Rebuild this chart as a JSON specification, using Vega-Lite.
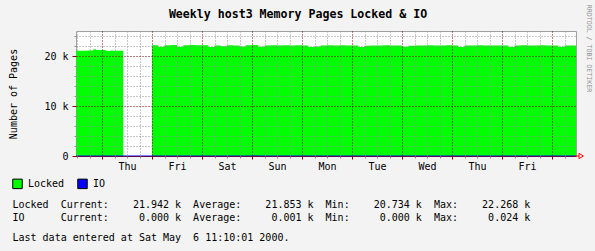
{
  "$schema": "https://vega.github.io/schema/vega-lite/v6.json",
  "width": 500,
  "height": 125,
  "autosize": {"type": "none"},
  "padding": {"left": 76, "top": 31, "right": 19, "bottom": 95},
  "background": "#f3f3f3",
  "config": {
    "view": {"fill": "white", "stroke": "#a0a0a0"},
    "font": "DejaVu Sans Mono"
  },
  "title": {
    "text": "Weekly host3 Memory Pages Locked & IO",
    "font": "DejaVu Sans Mono",
    "fontSize": 11.6,
    "fontWeight": "bold",
    "color": "black",
    "anchor": "middle",
    "baseline": "alphabetic",
    "dx": -28,
    "dy": 37.5,
    "offset": 12
  },
  "datasets": {
    "locked": [
      {"t": "2000-04-26T11:30:00", "v": 21060, "seg": "a", "series": "Locked"},
      {"t": "2000-04-26T14:00:00", "v": 21050, "seg": "a", "series": "Locked"},
      {"t": "2000-04-26T17:00:00", "v": 21080, "seg": "a", "series": "Locked"},
      {"t": "2000-04-26T19:50:00", "v": 21340, "seg": "a", "series": "Locked"},
      {"t": "2000-04-26T21:10:00", "v": 21200, "seg": "a", "series": "Locked"},
      {"t": "2000-04-27T02:00:00", "v": 21000, "seg": "a", "series": "Locked"},
      {"t": "2000-04-27T04:00:00", "v": 21100, "seg": "a", "series": "Locked"},
      {"t": "2000-04-27T05:30:00", "v": 21070, "seg": "a", "series": "Locked"},
      {"t": "2000-04-27T10:10:00", "v": 21070, "seg": "a", "series": "Locked"},
      {"t": "2000-04-28T00:00:00", "v": 22150, "seg": "b", "series": "Locked"},
      {"t": "2000-04-28T03:00:00", "v": 21850, "seg": "b", "series": "Locked"},
      {"t": "2000-04-28T06:00:00", "v": 22150, "seg": "b", "series": "Locked"},
      {"t": "2000-04-28T09:00:00", "v": 22200, "seg": "b", "series": "Locked"},
      {"t": "2000-04-28T12:00:00", "v": 21850, "seg": "b", "series": "Locked"},
      {"t": "2000-04-28T15:00:00", "v": 22150, "seg": "b", "series": "Locked"},
      {"t": "2000-04-28T18:00:00", "v": 22200, "seg": "b", "series": "Locked"},
      {"t": "2000-04-28T21:00:00", "v": 22150, "seg": "b", "series": "Locked"},
      {"t": "2000-04-29T00:00:00", "v": 22150, "seg": "b", "series": "Locked"},
      {"t": "2000-04-29T03:00:00", "v": 21800, "seg": "b", "series": "Locked"},
      {"t": "2000-04-29T06:00:00", "v": 22100, "seg": "b", "series": "Locked"},
      {"t": "2000-04-29T09:00:00", "v": 21950, "seg": "b", "series": "Locked"},
      {"t": "2000-04-29T12:00:00", "v": 22150, "seg": "b", "series": "Locked"},
      {"t": "2000-04-29T15:00:00", "v": 22100, "seg": "b", "series": "Locked"},
      {"t": "2000-04-29T18:00:00", "v": 21900, "seg": "b", "series": "Locked"},
      {"t": "2000-04-29T21:00:00", "v": 22150, "seg": "b", "series": "Locked"},
      {"t": "2000-04-30T00:00:00", "v": 22200, "seg": "b", "series": "Locked"},
      {"t": "2000-04-30T03:00:00", "v": 21850, "seg": "b", "series": "Locked"},
      {"t": "2000-04-30T06:00:00", "v": 22100, "seg": "b", "series": "Locked"},
      {"t": "2000-04-30T09:00:00", "v": 22150, "seg": "b", "series": "Locked"},
      {"t": "2000-04-30T12:00:00", "v": 22100, "seg": "b", "series": "Locked"},
      {"t": "2000-04-30T15:00:00", "v": 22150, "seg": "b", "series": "Locked"},
      {"t": "2000-04-30T18:00:00", "v": 22100, "seg": "b", "series": "Locked"},
      {"t": "2000-04-30T21:00:00", "v": 22150, "seg": "b", "series": "Locked"},
      {"t": "2000-05-01T00:00:00", "v": 22100, "seg": "b", "series": "Locked"},
      {"t": "2000-05-01T03:00:00", "v": 21800, "seg": "b", "series": "Locked"},
      {"t": "2000-05-01T06:00:00", "v": 21900, "seg": "b", "series": "Locked"},
      {"t": "2000-05-01T09:00:00", "v": 22100, "seg": "b", "series": "Locked"},
      {"t": "2000-05-01T12:00:00", "v": 22150, "seg": "b", "series": "Locked"},
      {"t": "2000-05-01T15:00:00", "v": 22100, "seg": "b", "series": "Locked"},
      {"t": "2000-05-01T18:00:00", "v": 22150, "seg": "b", "series": "Locked"},
      {"t": "2000-05-01T21:00:00", "v": 22100, "seg": "b", "series": "Locked"},
      {"t": "2000-05-02T00:00:00", "v": 22100, "seg": "b", "series": "Locked"},
      {"t": "2000-05-02T03:00:00", "v": 21800, "seg": "b", "series": "Locked"},
      {"t": "2000-05-02T06:00:00", "v": 22050, "seg": "b", "series": "Locked"},
      {"t": "2000-05-02T09:00:00", "v": 22100, "seg": "b", "series": "Locked"},
      {"t": "2000-05-02T12:00:00", "v": 22100, "seg": "b", "series": "Locked"},
      {"t": "2000-05-02T15:00:00", "v": 22150, "seg": "b", "series": "Locked"},
      {"t": "2000-05-02T18:00:00", "v": 22100, "seg": "b", "series": "Locked"},
      {"t": "2000-05-02T21:00:00", "v": 22100, "seg": "b", "series": "Locked"},
      {"t": "2000-05-03T00:00:00", "v": 21850, "seg": "b", "series": "Locked"},
      {"t": "2000-05-03T03:00:00", "v": 22050, "seg": "b", "series": "Locked"},
      {"t": "2000-05-03T06:00:00", "v": 22100, "seg": "b", "series": "Locked"},
      {"t": "2000-05-03T09:00:00", "v": 22100, "seg": "b", "series": "Locked"},
      {"t": "2000-05-03T12:00:00", "v": 22150, "seg": "b", "series": "Locked"},
      {"t": "2000-05-03T15:00:00", "v": 22100, "seg": "b", "series": "Locked"},
      {"t": "2000-05-03T18:00:00", "v": 22100, "seg": "b", "series": "Locked"},
      {"t": "2000-05-03T21:00:00", "v": 22150, "seg": "b", "series": "Locked"},
      {"t": "2000-05-04T00:00:00", "v": 22100, "seg": "b", "series": "Locked"},
      {"t": "2000-05-04T03:00:00", "v": 21800, "seg": "b", "series": "Locked"},
      {"t": "2000-05-04T06:00:00", "v": 22100, "seg": "b", "series": "Locked"},
      {"t": "2000-05-04T09:00:00", "v": 22100, "seg": "b", "series": "Locked"},
      {"t": "2000-05-04T12:00:00", "v": 22150, "seg": "b", "series": "Locked"},
      {"t": "2000-05-04T15:00:00", "v": 22100, "seg": "b", "series": "Locked"},
      {"t": "2000-05-04T18:00:00", "v": 22100, "seg": "b", "series": "Locked"},
      {"t": "2000-05-04T21:00:00", "v": 22100, "seg": "b", "series": "Locked"},
      {"t": "2000-05-05T00:00:00", "v": 22100, "seg": "b", "series": "Locked"},
      {"t": "2000-05-05T03:00:00", "v": 21800, "seg": "b", "series": "Locked"},
      {"t": "2000-05-05T06:00:00", "v": 22100, "seg": "b", "series": "Locked"},
      {"t": "2000-05-05T09:00:00", "v": 22150, "seg": "b", "series": "Locked"},
      {"t": "2000-05-05T12:00:00", "v": 22100, "seg": "b", "series": "Locked"},
      {"t": "2000-05-05T15:00:00", "v": 22100, "seg": "b", "series": "Locked"},
      {"t": "2000-05-05T18:00:00", "v": 22150, "seg": "b", "series": "Locked"},
      {"t": "2000-05-05T21:00:00", "v": 22100, "seg": "b", "series": "Locked"},
      {"t": "2000-05-06T00:00:00", "v": 22100, "seg": "b", "series": "Locked"},
      {"t": "2000-05-06T03:00:00", "v": 21850, "seg": "b", "series": "Locked"},
      {"t": "2000-05-06T06:00:00", "v": 22100, "seg": "b", "series": "Locked"},
      {"t": "2000-05-06T09:00:00", "v": 22100, "seg": "b", "series": "Locked"},
      {"t": "2000-05-06T11:30:00", "v": 22100, "seg": "b", "series": "Locked"}
    ],
    "io": [
      {"t": "2000-04-26T11:30:00", "v": 0},
      {"t": "2000-04-28T00:00:00", "v": 0},
      {"t": "2000-04-30T00:00:00", "v": 24},
      {"t": "2000-04-30T03:00:00", "v": 0},
      {"t": "2000-05-02T00:00:00", "v": 0},
      {"t": "2000-05-04T00:00:00", "v": 0},
      {"t": "2000-05-06T11:30:00", "v": 0}
    ],
    "edge": [
      {"t": "2000-05-06T11:30:00", "v": 0}
    ]
  },
  "layer": [
    {
      "data": {"name": "locked"},
      "mark": {"type": "area", "interpolate": "step-after"},
      "encoding": {
        "x": {
          "field": "t", "type": "temporal",
          "scale": {"domain": [
            {"year": 2000, "month": 4, "date": 26, "hours": 11, "minutes": 30},
            {"year": 2000, "month": 5, "date": 6, "hours": 11, "minutes": 30}
          ], "nice": false},
          "axis": {
            "orient": "bottom",
            "values": [
              {"year": 2000, "month": 4, "date": 26, "hours": 12}, {"year": 2000, "month": 4, "date": 26, "hours": 18},
              {"year": 2000, "month": 4, "date": 27, "hours": 6}, {"year": 2000, "month": 4, "date": 27, "hours": 12}, {"year": 2000, "month": 4, "date": 27, "hours": 18},
              {"year": 2000, "month": 4, "date": 28, "hours": 6}, {"year": 2000, "month": 4, "date": 28, "hours": 12}, {"year": 2000, "month": 4, "date": 28, "hours": 18},
              {"year": 2000, "month": 4, "date": 29, "hours": 6}, {"year": 2000, "month": 4, "date": 29, "hours": 12}, {"year": 2000, "month": 4, "date": 29, "hours": 18},
              {"year": 2000, "month": 4, "date": 30, "hours": 6}, {"year": 2000, "month": 4, "date": 30, "hours": 12}, {"year": 2000, "month": 4, "date": 30, "hours": 18},
              {"year": 2000, "month": 5, "date": 1, "hours": 6}, {"year": 2000, "month": 5, "date": 1, "hours": 12}, {"year": 2000, "month": 5, "date": 1, "hours": 18},
              {"year": 2000, "month": 5, "date": 2, "hours": 6}, {"year": 2000, "month": 5, "date": 2, "hours": 12}, {"year": 2000, "month": 5, "date": 2, "hours": 18},
              {"year": 2000, "month": 5, "date": 3, "hours": 6}, {"year": 2000, "month": 5, "date": 3, "hours": 12}, {"year": 2000, "month": 5, "date": 3, "hours": 18},
              {"year": 2000, "month": 5, "date": 4, "hours": 6}, {"year": 2000, "month": 5, "date": 4, "hours": 12}, {"year": 2000, "month": 5, "date": 4, "hours": 18},
              {"year": 2000, "month": 5, "date": 5, "hours": 6}, {"year": 2000, "month": 5, "date": 5, "hours": 12}, {"year": 2000, "month": 5, "date": 5, "hours": 18},
              {"year": 2000, "month": 5, "date": 6, "hours": 6}
            ],
            "grid": true, "gridColor": "#909090", "gridDash": [1, 2], "gridWidth": 1, "gridOpacity": 1,
            "ticks": true, "tickColor": "#909090", "tickSize": 2,
            "labels": false, "domain": false, "title": null, "zindex": 1
          }
        },
        "y": {
          "field": "v", "type": "quantitative", "stack": null,
          "scale": {"domain": [0, 25000], "nice": false},
          "axis": {
            "orient": "left",
            "values": [2000, 4000, 6000, 8000, 12000, 14000, 16000, 18000, 22000, 24000],
            "grid": true, "gridColor": "#909090", "gridDash": [1, 2], "gridWidth": 1, "gridOpacity": 1,
            "ticks": true, "tickColor": "#909090", "tickSize": 2,
            "labels": false, "domain": false, "title": null, "zindex": 1
          }
        },
        "detail": {"field": "seg"},
        "color": {
          "field": "series", "type": "nominal",
          "scale": {"domain": ["Locked", "IO"], "range": ["#00ff00", "#0000ff"]},
          "legend": {
            "orient": "none", "legendX": -64, "legendY": 147, "direction": "horizontal",
            "title": null, "padding": 0,
            "symbolType": "square", "symbolSize": 90, "symbolStrokeColor": "black", "symbolStrokeWidth": 1, "symbolOpacity": 1,
            "labelFont": "DejaVu Sans Mono", "labelFontSize": 10, "labelColor": "black",
            "labelOffset": 5, "columnPadding": 10
          }
        }
      }
    },
    {
      "data": {"name": "io"},
      "mark": {"type": "line", "interpolate": "step-after", "color": "#0000ff", "strokeWidth": 1},
      "encoding": {
        "x": {
          "field": "t", "type": "temporal",
          "axis": {
            "orient": "bottom",
            "values": [
              {"year": 2000, "month": 4, "date": 27}, {"year": 2000, "month": 4, "date": 28},
              {"year": 2000, "month": 4, "date": 29}, {"year": 2000, "month": 4, "date": 30},
              {"year": 2000, "month": 5, "date": 1}, {"year": 2000, "month": 5, "date": 2},
              {"year": 2000, "month": 5, "date": 3}, {"year": 2000, "month": 5, "date": 4},
              {"year": 2000, "month": 5, "date": 5}, {"year": 2000, "month": 5, "date": 6}
            ],
            "grid": true, "gridColor": "#800000", "gridDash": [1, 2], "gridWidth": 1, "gridOpacity": 1,
            "ticks": true, "tickColor": "#800000", "tickSize": 3,
            "labels": true, "labelOffset": 25,
            "labelExpr": "datum.index == 1 ? '' : timeFormat(datum.value, '%a')",
            "labelFont": "DejaVu Sans Mono", "labelFontSize": 10, "labelColor": "black", "labelPadding": 2,
            "labelFlush": false, "labelOverlap": false, "labelBound": false, "labelAngle": 0,
            "domain": false, "zindex": 1,
            "title": [
              "Locked\u00a0\u00a0Current:\u00a0\u00a0\u00a0\u00a021.942\u00a0k\u00a0\u00a0Average:\u00a0\u00a0\u00a0\u00a021.853\u00a0k\u00a0\u00a0Min:\u00a0\u00a0\u00a0\u00a020.734\u00a0k\u00a0\u00a0Max:\u00a0\u00a0\u00a0\u00a022.268\u00a0k",
              "IO\u00a0\u00a0\u00a0\u00a0\u00a0\u00a0Current:\u00a0\u00a0\u00a0\u00a0\u00a00.000\u00a0k\u00a0\u00a0Average:\u00a0\u00a0\u00a0\u00a0\u00a00.001\u00a0k\u00a0\u00a0Min:\u00a0\u00a0\u00a0\u00a0\u00a00.000\u00a0k\u00a0\u00a0Max:\u00a0\u00a0\u00a0\u00a0\u00a00.024\u00a0k"
            ],
            "titleFont": "DejaVu Sans Mono", "titleFontSize": 10, "titleFontWeight": "normal", "titleColor": "black",
            "titleX": -64, "titleY": 43, "titleAlign": "left", "titleBaseline": "top", "titleAngle": 0,
            "titleLineHeight": 13.7
          }
        },
        "y": {
          "field": "v", "type": "quantitative",
          "axis": {
            "orient": "left", "values": [0, 10000, 20000],
            "grid": true, "gridColor": "#800000", "gridDash": [1, 2], "gridWidth": 1, "gridOpacity": 1,
            "ticks": true, "tickColor": "#800000", "tickSize": 4,
            "labelExpr": "datum.value == 0 ? '0' : (datum.value / 1000) + ' k'",
            "labelFont": "DejaVu Sans Mono", "labelFontSize": 10, "labelColor": "black", "labelPadding": 4,
            "domain": false, "zindex": 1,
            "title": "Number of Pages",
            "titleFont": "DejaVu Sans Mono", "titleFontSize": 10, "titleFontWeight": "normal", "titleColor": "black",
            "titleX": -63, "titleY": 62.5, "titleAngle": 270, "titleAlign": "center", "titleBaseline": "middle"
          }
        }
      }
    },
    {
      "data": {"name": "edge"},
      "mark": {
        "type": "point",
        "shape": "M-2,0L-0.5,0M-0.5,-1L1.1,0L-0.5,1Z",
        "filled": false, "color": "#ff0000", "size": 29, "strokeWidth": 1,
        "xOffset": 4.4, "opacity": 1
      },
      "encoding": {
        "x": {
          "field": "t", "type": "temporal",
          "axis": {
            "orient": "bottom", "domain": true, "domainColor": "#800000", "domainWidth": 1,
            "ticks": false, "labels": false, "grid": false, "zindex": 0,
            "title": "Last\u00a0data\u00a0entered\u00a0at\u00a0Sat\u00a0May\u00a0\u00a06\u00a011:10:01\u00a02000.",
            "titleFont": "DejaVu Sans Mono", "titleFontSize": 10, "titleFontWeight": "normal", "titleColor": "black",
            "titleX": -64, "titleY": 76.7, "titleAlign": "left", "titleBaseline": "top", "titleAngle": 0
          }
        },
        "y": {
          "field": "v", "type": "quantitative",
          "axis": {
            "orient": "right", "domain": false, "ticks": false, "labels": false, "grid": false,
            "title": "RRDTOOL / TOBI OETIKER",
            "titleFont": "DejaVu Sans Mono", "titleFontSize": 6.6, "titleFontWeight": "normal", "titleColor": "#909090",
            "titleX": 12, "titleY": 17, "titleAngle": 90, "titleAlign": "center", "titleBaseline": "middle"
          }
        }
      }
    }
  ],
  "resolve": {"axis": {"x": "independent", "y": "independent"}}
}
